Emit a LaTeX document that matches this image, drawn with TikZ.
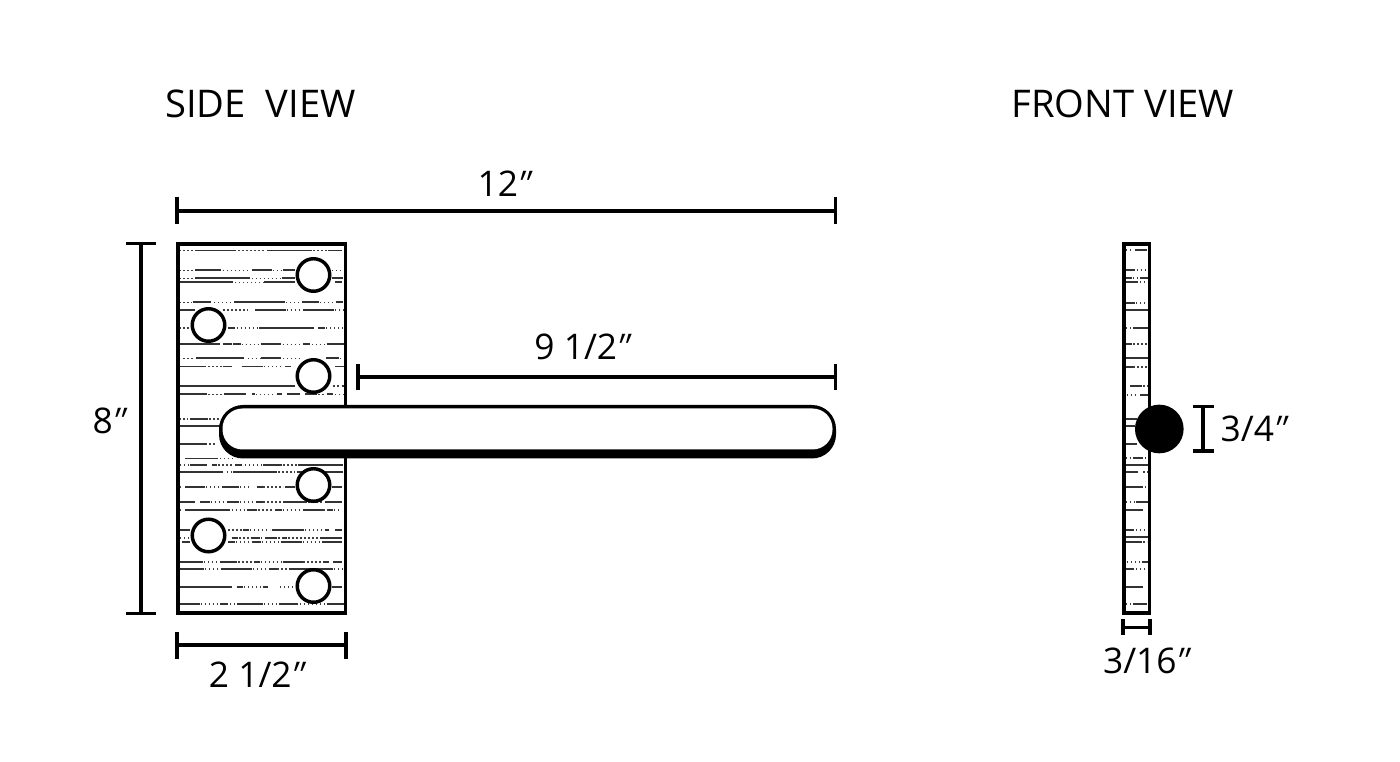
\documentclass[tikz,border=0pt]{standalone}
\usepackage{fontspec}
\setmainfont{Open Sans}
\newfontface\slantface[FakeSlant=0.35]{Open Sans}
\newcommand{\dprime}{\kern-0.17em{\slantface ″}\kern-0.1em}
\newcommand{\grainS}[2]{\foreach \a/\b in {#2}{\draw[grainsolid] (\a,#1) -- (\b,#1);}}
\newcommand{\grain}[3]{\grainS{#1}{#2}\foreach \a/\b in {#3}{\draw[graindot] (\a,#1) -- (\b,#1);}}
\tikzset{
  outline/.style={draw=black,line width=2.7pt},
  dimline/.style={draw=black,line width=2.5pt},
  hole/.style={circle,draw=black,fill=white,line width=2.6pt,minimum size=24.4pt,inner sep=0pt},
  grainsolid/.style={draw=black!80,line width=1.2pt},
  graindot/.style={draw=black!75,line width=0.9pt,dash pattern=on 1.1pt off 1.9pt},
  title/.style={font=\fontsize{28.6pt}{30pt}\selectfont,anchor=base,inner sep=0pt},
  dimtext/.style={font=\fontsize{26.5pt}{30pt}\selectfont,anchor=base,inner sep=0pt}
}
\begin{document}
\begin{tikzpicture}[x=0.75pt,y=-0.75pt]
\useasboundingbox[fill=white] (0,0) rectangle (1400,762);
% side view grain
\begin{scope}[shift={(120,0)},x=0.25pt]
\grain{250.7}{225/348,440/575,625/665}{178/222,355/435,580/625}
\grain{270.3}{225/302,395/455,490/525}{178/222,308/385,458/490,635/670}
\grain{278.3}{225/390,485/525,635/670}{178/222,395/480}
\grain{282.3}{178/340,432/525,645/665}{345/430}
\grain{302.3}{218/272,343/495,545/598,648/668}{178/215,282/335,498/542,600/640}
\grain{310}{178/225,405/497,548/642}{310/385,500/545,645/672}
\grain{328}{325/345,418/582,595/615}{178/212,350/412,618/670}
\grain{344.3}{178/300,310/335,340/362,422/483,550/570,620/672}{365/420,488/548,575/618}
\grain{358.3}{228/372,422/483,618/658}{190/225,383/420,488/545,660/670}
\grain{366.7}{178/258,310/335,365/430,495/512,645/672}{265/308,432/490}
\grain{386}{180/525,665/672}{640/660}
\grain{394.3}{178/260,312/378,395/405,470/485,500/540,555/590,620/640}{265/308,408/468,595/618,645/670}
\grain{419}{210/265}{178/205,268/300}
\grainS{426}{178/300}
\grain{444}{178/262}{268/285}
\grain{458.5}{195/295}{300/340}
\grain{465}{210/260,275/290,345/365,430/485,535/670}{180/205,295/340,375/425,490/530}
\grain{472}{180/310,340/470,530/670}{320/335,475/525}
\grain{487}{195/255,305/358,410/428,495/525,635/665}{178/185,258/300,360/395,430/490}
\grain{502}{178/225,240/270,320/358,408/428,490/560,615/665}{272/318,360/400,430/488,565/612}
\grain{510}{195/330,380/412,465/485,548/608,625/640}{178/185,335/378,415/460,488/545,610/625,642/665}
\grain{530}{178/210,368/388,455/552,615/628,645/665}{325/365,390/450,555/612}
\grain{538}{335/355,392/420,438/472,490/500,600/665}{180/210,358/390,422/436,475/490,505/595}
\grain{542}{185/210,325/345,400/422,482/545,605/665}{348/398,425/480,548/602}
\grain{562}{178/248,300/352,402/420,488/548,610/628,640/665}{252/298,355/400,422/485,550/608}
\grain{569}{178/252,302/395,448/470,508/640}{255/298,398/445,472/505,642/670}
\grain{587}{178/335,350/368,430/445,635/665}{372/428,480/520}
\grain{604}{178/240,300/325,350/430,478/535,620/672}{242/298,330/348,432/475,540/618}
\end{scope}
% front view grain
\begin{scope}[shift={(1090,0)},x=0.25pt]
\grain{250}{135/172}{108/130}
\grain{270}{108/135}{140/175}
\grain{278}{108/125,150/175}{128/148}
\grain{282}{108/145}{150/175}
\grain{303}{108/135}{138/172}
\grainS{310}{108/177}
\grain{328}{130/177}{108/125}
\grain{344}{108/125}{130/175}
\grainS{358}{108/177}
\grain{367}{108/128}{130/175}
\grain{386}{120/155}{160/175}
\grain{395}{150/175}{110/145}
\grainS{419}{105/140}
\grainS{426}{105/135}
\grainS{444}{105/140}
\grain{458}{128/160}{108/125,165/175}
\grainS{465}{108/177}
\grain{472}{108/145}{160/175}
\grain{487}{108/160}{165/175}
\grain{502}{138/175}{108/135}
\grainS{510}{108/160}
\grain{530}{108/132}{138/170}
\grainS{537}{108/177}
\grain{542}{108/155}{160/172}
\grain{562}{155/175}{110/150}
\grain{569}{108/132}{138/175}
\grainS{587}{108/158}
\grain{604}{130/170}{108/128}
\end{scope}
% plate
\draw[outline] (177.8,243.8) rectangle (345.5,612.8);
\node[hole] (h1) at (313.5,275) {};
\node[hole] (h2) at (208.5,325) {};
\node[hole] (h3) at (313.5,376) {};
\node[hole] (h4) at (313.5,485) {};
\node[hole] (h5) at (208.5,535.5) {};
\node[hole] (h6) at (313.5,586) {};
% bar
\fill[black,rounded corners=18pt] (219,405) rectangle (836,458.5);
\fill[white,rounded corners=15pt] (222.5,408.5) rectangle (832.5,449.5);
% front
\draw[outline] (1123.8,243.8) rectangle (1149.4,612.8);
\node[circle,fill=black,minimum size=36.5pt,inner sep=0pt] (rod) at (1159.3,429) {};
% dimensions
\coordinate (a1) at (177,211); \coordinate (a2) at (835.5,211);
\draw[dimline] (a1) -- (a2);
\draw[dimline] (177,197.5) -- (177,224.5);
\draw[dimline] (835.5,197.5) -- (835.5,224.5);
\coordinate (b1) at (358,377); \coordinate (b2) at (835.5,377);
\draw[dimline] (b1) -- (b2);
\draw[dimline] (358,364) -- (358,390);
\draw[dimline] (835.5,364) -- (835.5,390);
\coordinate (c1) at (141,243.5); \coordinate (c2) at (141,613.5);
\draw[dimline] (c1) -- (c2);
\draw[dimline] (126,243.5) -- (156,243.5);
\draw[dimline] (126,613.5) -- (156,613.5);
\coordinate (d1) at (177,645); \coordinate (d2) at (346,645);
\draw[dimline] (d1) -- (d2);
\draw[dimline] (177,632) -- (177,659);
\draw[dimline] (346,632) -- (346,659);
\coordinate (e1) at (1203,406.5); \coordinate (e2) at (1203,451);
\draw[dimline] (e1) -- (e2);
\draw[dimline] (1192.5,406.5) -- (1213.5,406.5);
\draw[dimline] (1192.5,451) -- (1213.5,451);
\coordinate (f1) at (1123,627.5); \coordinate (f2) at (1150,627.5);
\draw[dimline] (f1) -- (f2);
\draw[dimline] (1123,619.5) -- (1123,635);
\draw[dimline] (1150,619.5) -- (1150,635);
% text
\node[title] (t1) at (260.5,118) {SIDE\ \ VIEW};
\node[title] (t2) at (1123,118) {FRONT VIEW};
\node[dimtext] (l1) at (500,197) {12\dprime};
\node[dimtext] (l2) at (578,360) {9 1/2\dprime};
\node[dimtext] (l3) at (105,434) {8\dprime};
\node[dimtext] (l4) at (252.5,687.5) {2 1/2\dprime};
\node[dimtext] (l5) at (1249.5,442) {3/4\dprime};
\node[dimtext] (l6) at (1142,673) {3/16\dprime};
\end{tikzpicture}
\end{document}
